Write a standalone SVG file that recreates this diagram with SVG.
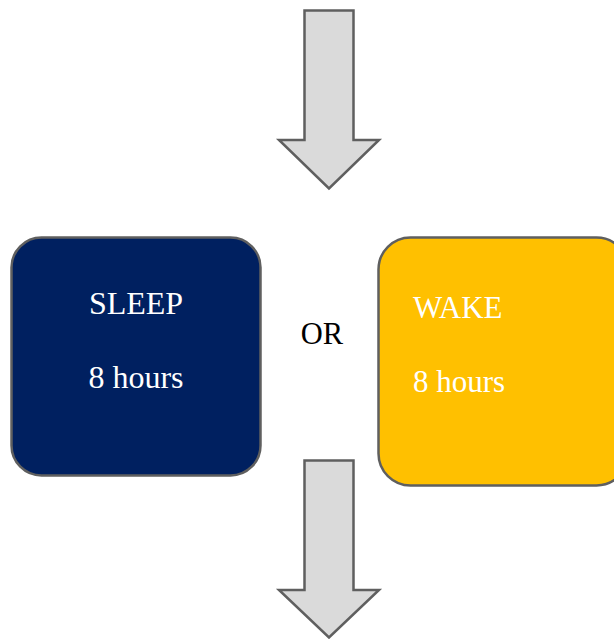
<svg xmlns="http://www.w3.org/2000/svg" width="614" height="639" viewBox="0 0 614 639">
<style>
.arrow{fill:#dadada;stroke:#5f5f5f;stroke-width:2.5;stroke-linejoin:miter}
.box{stroke:#5f5f5f;stroke-width:2.5}
.t{font-family:"Liberation Serif","Times New Roman",serif;font-size:32px;fill:#ffffff}
</style>
<rect width="614" height="639" fill="#ffffff"/>
<g id="connectors">
<path id="arrow-top" class="arrow" d="M304.5,10.5 H353.5 V140 H379 L329,188.5 L279,140 H304.5 Z"/>
<path id="arrow-bottom" class="arrow" d="M304.5,460.5 H353.5 V590 H379 L329,637.5 L279,590 H304.5 Z"/>
</g>
<g id="sleep">
<rect class="box" x="11.5" y="237.5" width="249" height="238" rx="30" ry="30" fill="#002060"/>
<text class="t" x="136" y="314" text-anchor="middle">SLEEP</text>
<text class="t" x="136" y="388" text-anchor="middle">8 hours</text>
</g>
<g id="or">
<text x="322" y="344" text-anchor="middle" font-family="'Liberation Serif','Times New Roman',serif" font-size="30.5" fill="#000000">OR</text>
</g>
<g id="wake">
<rect class="box" x="378.5" y="237.5" width="250" height="248" rx="32" ry="32" fill="#ffc000"/>
<text class="t" x="413" y="318" style="font-size:31px">WAKE</text>
<text class="t" x="413" y="392" style="font-size:31px">8 hours</text>
</g>
</svg>
